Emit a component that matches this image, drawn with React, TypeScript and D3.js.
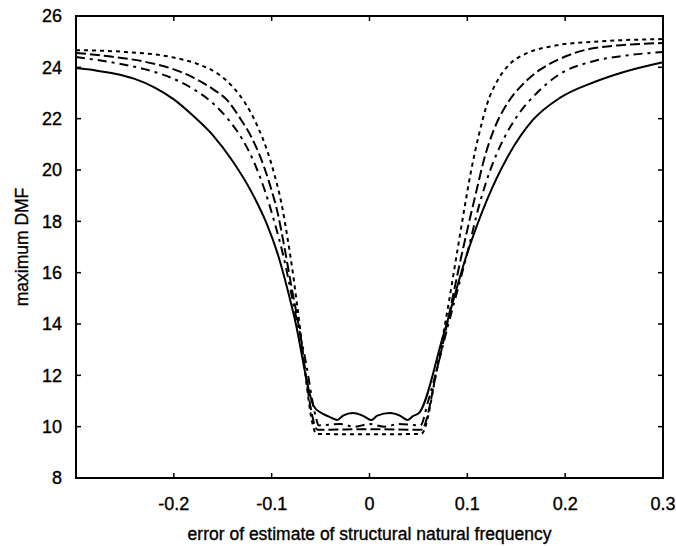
import React from "react";
import * as d3 from "d3";

const xTicks = [-0.2, -0.1, 0, 0.1, 0.2, 0.3];
const yTicks = [8, 10, 12, 14, 16, 18, 20, 22, 24, 26];

const solidX = [-0.3, -0.28, -0.26, -0.24, -0.22, -0.2, -0.18, -0.16, -0.14, -0.12, -0.105, -0.094, -0.077, -0.057, -0.05, -0.042, -0.033, -0.027, -0.017, -0.007, 0.002, 0.008, 0.021, 0.031, 0.039, 0.044, 0.051, 0.075, 0.1, 0.12, 0.141, 0.167, 0.195, 0.23, 0.26, 0.3];
const solidY = [23.97, 23.88, 23.75, 23.55, 23.22, 22.75, 22.1, 21.35, 20.35, 19.1, 17.9, 16.75, 14.3, 10.8, 10.55, 10.4, 10.26, 10.43, 10.53, 10.43, 10.26, 10.43, 10.53, 10.43, 10.26, 10.4, 10.55, 13.5, 16.77, 18.83, 20.5, 21.95, 22.82, 23.43, 23.82, 24.2];

const dashDotX = [-0.3, -0.26, -0.23, -0.2, -0.18, -0.16, -0.145, -0.13, -0.118, -0.107, -0.097, -0.088, -0.076, -0.066, -0.055, -0.052, -0.03, -0.015, 0, 0.015, 0.03, 0.052, 0.06, 0.08, 0.1, 0.113, 0.123, 0.137, 0.151, 0.171, 0.193, 0.23, 0.26, 0.3];
const dashDotY = [24.4, 24.17, 23.93, 23.55, 23.15, 22.6, 22.0, 21.2, 20.3, 19.2, 17.95, 16.65, 14.45, 12.7, 10.4, 10.05, 10.1, 10.0, 10.1, 10.0, 10.1, 10.05, 11.0, 13.9, 16.77, 18.75, 19.95, 21.2, 22.1, 23.0, 23.7, 24.25, 24.45, 24.6];

const dashedX = [-0.3, -0.26, -0.23, -0.2, -0.18, -0.16, -0.145, -0.132, -0.121, -0.111, -0.102, -0.094, -0.087, -0.08, -0.074, -0.053, 0, 0.053, 0.07, 0.096, 0.103, 0.11, 0.117, 0.127, 0.141, 0.157, 0.174, 0.193, 0.23, 0.3];
const dashedY = [24.56, 24.4, 24.22, 23.92, 23.6, 23.15, 22.7, 22.0, 21.3, 20.45, 19.45, 18.35, 17.0, 15.5, 14.3, 9.88, 9.9, 9.88, 12.4, 17.0, 18.17, 19.3, 20.4, 21.56, 22.6, 23.35, 23.9, 24.3, 24.75, 24.95];

const dottedX = [-0.3, -0.25, -0.2, -0.175, -0.155, -0.14, -0.127, -0.115, -0.105, -0.097, -0.09, -0.084, -0.078, -0.0735, -0.054, 0, 0.053, 0.07, 0.08, 0.09, 0.097, 0.104, 0.112, 0.12, 0.131, 0.144, 0.161, 0.19, 0.23, 0.3];
const dottedY = [24.67, 24.6, 24.38, 24.12, 23.75, 23.25, 22.6, 21.75, 20.8, 19.8, 18.7, 17.4, 15.9, 14.6, 9.72, 9.7, 9.72, 12.5, 14.6, 16.9, 18.5, 20.0, 21.4, 22.55, 23.5, 24.15, 24.55, 24.85, 25.0, 25.1];

const seriesList = [
  { name: "solid", xs: solidX, ys: solidY, dash: "" },
  { name: "dashdot", xs: dashDotX, ys: dashDotY, dash: "9,5,3,5" },
  { name: "dashed", xs: dashedX, ys: dashedY, dash: "10,4" },
  { name: "dotted", xs: dottedX, ys: dottedY, dash: "4,4" },
];

export default function App() {
  const W = 676, H = 546;
  const left = 76, right = 663, top = 16, bottom = 478;
  const x = d3.scaleLinear().domain([-0.3, 0.3]).range([left, right]);
  const y = d3.scaleLinear().domain([8, 26]).range([bottom, top]);
  const line = d3
    .line<[number, number]>()
    .x((d) => x(d[0]))
    .y((d) => y(d[1]))
    .curve(d3.curveMonotoneX);
  const font = "'Liberation Sans', Arial, sans-serif";
  const tl = 5;
  const textStyle = { stroke: "#000", strokeWidth: 0.35 };
  return (
    <svg width={W} height={H} style={{ position: "absolute", left: 0, top: 0, background: "#fff" }}>
      <rect x={0} y={0} width={W} height={H} fill="#fff" />
      {seriesList.map((s) => (
        <path
          key={s.name}
          d={line(s.xs.map((v, i) => [v, s.ys[i]] as [number, number])) || ""}
          fill="none"
          stroke="#000"
          strokeWidth={2}
          strokeDasharray={s.dash || undefined}
        />
      ))}
      <rect x={left} y={top} width={right - left} height={bottom - top} fill="none" stroke="#000" strokeWidth={2} />
      {xTicks.map((t) => (
        <g key={"x" + t}>
          <line x1={x(t)} x2={x(t)} y1={bottom} y2={bottom - tl} stroke="#000" strokeWidth={1.5} />
          <line x1={x(t)} x2={x(t)} y1={top} y2={top + tl} stroke="#000" strokeWidth={1.5} />
          <text x={x(t)} y={510} textAnchor="middle" fontFamily={font} fontSize={18} fill="#000" style={textStyle}>
            {t === 0 ? "0" : String(t)}
          </text>
        </g>
      ))}
      {yTicks.map((t) => (
        <g key={"y" + t}>
          <line x1={left} x2={left + tl} y1={y(t)} y2={y(t)} stroke="#000" strokeWidth={1.5} />
          <line x1={right} x2={right - tl} y1={y(t)} y2={y(t)} stroke="#000" strokeWidth={1.5} />
          <text x={62} y={y(t)} dy="0.36em" textAnchor="end" fontFamily={font} fontSize={18} fill="#000" style={textStyle}>
            {t}
          </text>
        </g>
      ))}
      <text x={(left + right) / 2} y={540} textAnchor="middle" fontFamily={font} fontSize={17.5} fill="#000" style={textStyle}>
        error of estimate of structural natural frequency
      </text>
      <text
        transform={`translate(28,${(top + bottom) / 2}) rotate(-90)`}
        textAnchor="middle"
        fontFamily={font}
        fontSize={17.5}
        fill="#000"
        style={textStyle}
      >
        maximum DMF
      </text>
    </svg>
  );
}
